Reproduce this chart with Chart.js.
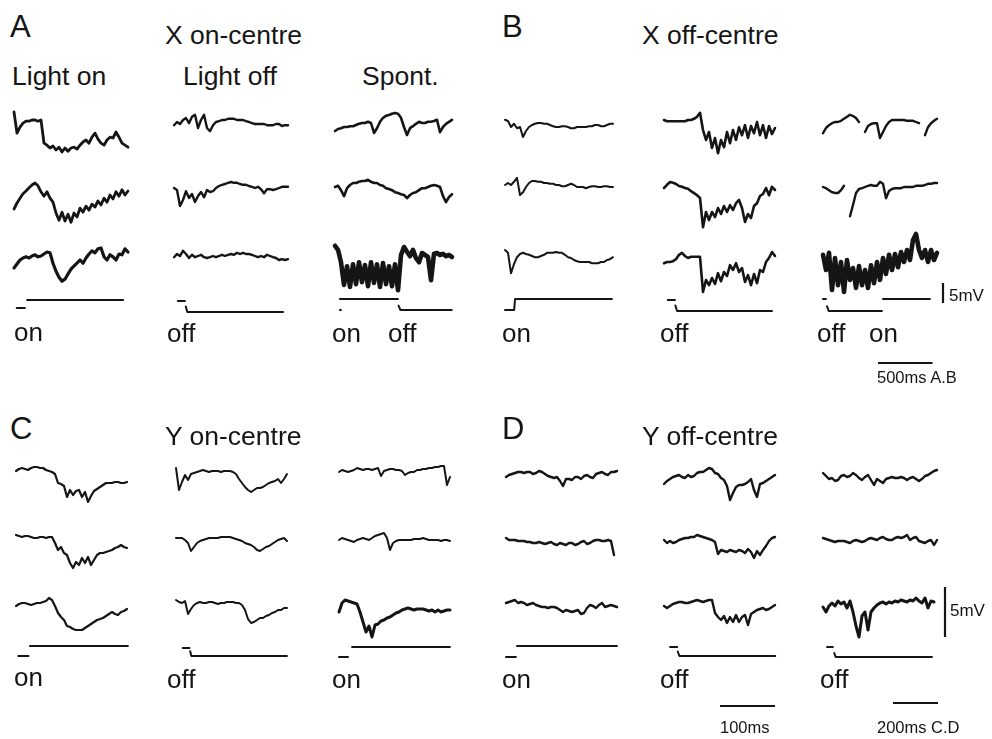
<!DOCTYPE html>
<html>
<head>
<meta charset="utf-8">
<script src="https://cdn.jsdelivr.net/npm/chart.js@4.4.1/dist/chart.umd.min.js"></script>
<style>
html, body { margin: 0; padding: 0; background: #fff; }
#fig { position: relative; width: 992px; height: 739px; overflow: hidden;
       font-family: "Liberation Sans", Arial, Helvetica, sans-serif; color: #151515; }
#fig canvas { position: absolute; }
.lbl { position: absolute; white-space: nowrap; line-height: 1; }
</style>
</head>
<body>
<div id="fig"></div>
<script>
/* membrane potential traces, mV relative to each trace's resting level,
   one sample every DT ms (see columns below) */

// A - X on-centre
const A1_1 = [2.0,-3.3,-1.8,-0.8,-0.3,-0.3,0,0,-0.3,0,-5.8,-6.3,-7.0,-6.5,-7.5,-6.8,-8.0,-7.0,-7.8,-7.0,-6.8,-7.3,-6.3,-5.5,-5.0,-5.8,-4.3,-3.3,-4.8,-5.8,-6.3,-5.0,-4.3,-4.5,-3.0,-4.3,-5.8,-6.3,-6.8];
const A1_2 = [-3.5,-2.0,-0.8,0.3,1.0,1.8,2.5,3.0,2.3,0.8,-0.3,0.8,-0.8,-1.8,-4.5,-6.3,-4.3,-6.5,-4.8,-6.8,-4.5,-5.5,-3.3,-4.3,-2.8,-3.8,-2.3,-3.0,-1.5,-2.5,-0.8,-1.8,0,-1.0,0.8,-0.3,1.3,0,1.0];
const A1_3 = [-2.5,-1.5,-0.5,0,0.3,0,0.5,0.8,0.3,0.5,1.0,1.5,1.3,-1.3,-3.3,-4.8,-5.8,-5.3,-4.0,-2.8,-2.0,-1.3,-0.5,-1.3,0,1.0,1.8,1.3,2.3,2.5,0.3,-0.5,0.8,0.3,-0.5,1.0,0.8,2.3,1.5];

const A2_1 = [-1.3,-0.5,-1.0,0,0.5,-0.8,0.8,1.3,-2.0,0,1.3,-2.0,-2.8,-1.3,-0.5,-0.3,0,0,0.3,0.3,0.3,0,0,0,-0.3,-0.5,-0.8,-1.0,-1.0,-1.0,-1.0,-1.3,-1.3,-1.3,-1.0,-1.0,-1.5,-1.3,-1.3];
const A2_2 = [0,-0.5,-4.5,-3.0,-0.8,-2.5,-1.5,-3.5,-2.0,-1.0,-2.3,-0.5,-1.0,-0.8,0,0.5,0.8,1.0,1.3,1.5,1.3,1.3,1.0,0.8,0.8,0.5,0.3,0,0.3,-0.3,-1.3,-0.3,-0.3,-0.5,-0.3,0,0.3,0.3,0.3];
const A2_3 = [-0.3,0.5,0,1.3,0.5,-0.5,0.3,-0.3,0,0.3,-0.3,-0.5,-0.3,0,-0.3,0,0.3,0,0.3,0.5,0.3,0.8,0.5,0.8,0.5,0.5,0.3,0,-0.3,0,-0.3,0.3,0,-0.3,-0.5,-1.0,-0.8,-1.0,-0.8];

const A3_1 = [-1.5,-1.0,-0.8,-0.5,-0.5,-0.3,-0.3,0,0.3,0.5,0.5,0.8,0.5,-2.0,-0.8,0.8,1.8,2.3,2.5,2.8,3.0,2.8,1.8,-0.5,-2.5,-0.8,-0.3,0.3,0.8,0.5,0.5,0.8,0.8,1.0,1.3,-1.8,-0.5,0.3,0.8,1.3];
const A3_2 = [0,0.3,-0.8,-2.3,-0.3,0.5,1.0,1.0,1.3,1.5,1.5,1.8,1.3,1.0,1.0,0.5,0.3,-0.3,-0.5,-0.8,-1.3,-1.5,-1.8,-2.0,-2.8,-2.0,-1.5,-1.3,-0.8,-0.3,-0.3,0,0.3,0.5,0.3,0,-2.3,-3.8,-2.5,-1.8];
const A3_3 = [2.3,1.3,-1.8,-7.5,-2.8,-8.0,-2.3,-7.3,-1.8,-6.8,-2.5,-7.8,-1.8,-7.0,-2.3,-8.0,-2.0,-7.3,-2.8,-7.8,-2.3,-8.8,0,2.0,0.8,-0.3,1.3,-0.8,-1.8,0.5,0,-0.5,-6.3,0.3,0.5,0,0.3,-0.3,0,-0.5];

// B - X off-centre
const B1_1 = [1.3,1.0,-0.5,0.3,-0.8,-0.5,-3.0,-1.5,-0.5,0,0.3,0.5,0.5,0.3,0.3,0,-0.3,-0.5,-0.5,-0.3,-0.3,-0.5,-0.8,-0.8,-0.5,-0.5,-0.5,-0.5,-0.3,-0.3,0,0,-0.3,-0.3,0,0.3,0.3];
const B1_2 = [0,0.5,0,0.8,1.8,-2.5,-1.8,-0.5,0.5,1.0,1.0,0.8,0.8,0.5,0.5,0.3,0.3,0,0,-0.3,-0.3,0,0.3,0,-0.5,-0.5,-0.5,-0.8,-0.5,-0.3,-0.3,-0.5,-0.5,-0.3,-0.3,-0.5,-0.5];
const B1_3 = [1.5,0.8,-4.3,-2.0,-0.3,0.5,0.8,0.5,0.3,0,-0.3,-0.3,0,0.3,0.8,0.8,0.8,1.0,0.8,0.8,0.3,-0.3,-0.5,-1.0,-1.3,-1.5,-1.5,-1.5,-1.5,-1.8,-1.8,-1.8,-1.5,-1.5,-1.0,-0.8,-0.3];

const B2_1 = [0,-0.3,-0.3,-0.3,-0.3,-0.3,-0.3,-0.3,0,0,0.3,0.8,1.8,-2.5,-5.0,-3.0,-7.0,-4.5,-8.3,-5.0,-6.8,-3.0,-5.8,-2.5,-5.0,-1.8,-3.8,-1.3,-4.5,-1.5,-3.3,-0.5,-3.8,-1.3,-4.5,-1.5,-3.5,-2.0];
const B2_2 = [0.5,1.3,2.0,1.8,1.5,1.0,0.8,0.5,0.3,-0.3,-0.8,-1.3,-2.0,-9.3,-5.5,-7.5,-5.5,-6.8,-4.5,-6.0,-4.0,-5.5,-3.8,-5.0,-3.3,-2.5,-4.5,-8.0,-6.0,-7.0,-4.0,-3.3,-1.5,-1.0,0.5,-1.3,0.8,0];
const B2_3 = [-1.3,-1.0,-1.0,-0.8,-0.3,0.8,1.3,0.5,0,0.3,0.3,0.3,0.3,-8.5,-5.5,-6.8,-5.0,-6.5,-3.8,-5.8,-3.5,-4.5,-1.8,-3.0,-1.3,-3.5,-2.5,-6.0,-4.3,-6.8,-4.0,-6.3,-3.0,-3.5,-1.0,0,1.5,0.5];

const B3_1 = [-2.8,-1.5,-0.8,-0.3,0,0,0.3,0.8,1.3,1.8,1.5,1.0,0,null,-2.5,-1.0,-0.5,-0.3,-0.3,-4.0,-2.5,-1.0,0,0.5,0.5,0.5,0.5,0.5,0.3,0.3,0.3,0,-0.3,null,-3.3,-1.3,-0.3,0.3,0.8];
const B3_2 = [0,-0.3,-0.8,-1.3,-1.5,-1.5,-0.8,0.3,null,-7.3,-4.5,-1.5,-0.5,-0.3,0,0.3,0.5,0.3,0.3,1.3,0.8,-2.8,-1.0,-0.5,-0.3,-0.3,-0.3,0,0,0,0,0.3,0.3,0.3,0.5,0.8,0.8,1.0,1.0];
const B3_3 = [0.8,-3.0,1.3,-8.0,0,-6.8,-1.0,-8.5,-0.5,-5.5,-2.5,-7.5,-2.0,-6.8,-3.0,-7.5,-1.8,-6.3,-1.0,-5.5,0,-4.0,0.8,-3.0,1.0,-2.3,1.5,-1.0,2.0,-0.5,4.5,6.0,2.0,0,2.0,-1.0,2.0,-0.5,1.3];

// C - Y on-centre
const C1_1 = [-0.1,0.1,0.2,0.1,0,0.2,0.3,0.3,0.2,0.2,0,-0.1,-0.2,-0.4,-1.3,-1.4,-1.6,-2.7,-2.0,-2.5,-2.1,-2.0,-2.7,-2.2,-3.2,-2.6,-2.1,-1.9,-1.7,-1.5,-1.3,-1.3,-1.3,-1.2,-1.2,-1.3,-1.3,-1.2];
const C1_2 = [0.2,0.1,0,0.1,0.1,0,-0.1,-0.1,0,0,-0.1,0,0,-0.6,-1.3,-1.0,-1.6,-1.8,-2.6,-3.1,-2.5,-2.8,-2.1,-2.6,-2.0,-2.8,-2.3,-1.8,-1.6,-1.6,-1.5,-1.4,-1.3,-1.1,-1.0,-0.8,-1.0,-1.1];
const C1_3 = [-0.2,0,0.1,0.1,0,-0.1,0,0.1,0.1,0.2,0.3,0.6,0.4,-0.2,-0.9,-1.3,-1.6,-2.2,-2.3,-2.5,-2.6,-2.6,-2.6,-2.4,-2.2,-2.0,-1.8,-1.6,-1.5,-1.4,-1.2,-1.0,-0.8,-1.0,-1.1,-0.8,-0.7,-0.5];

const C2_1 = [0.4,-1.8,-1.0,-0.3,-0.8,-0.2,-0.1,0,0.1,0.2,0.1,0,0.1,0.1,0.1,0,0.1,0.1,0.1,0,-0.2,-0.7,-1.1,-1.5,-1.8,-2.0,-1.8,-1.6,-1.6,-1.5,-1.3,-1.1,-1.0,-0.9,-0.7,-1.1,-0.7,-0.2];
const C2_2 = [0,0,0,-0.2,-0.5,-1.3,-0.9,-0.5,-0.3,-0.2,-0.1,0,0,0,0,0.1,0.1,0.1,0.1,0,-0.1,-0.2,-0.3,-0.5,-0.6,-0.7,-0.9,-1.2,-1.3,-1.1,-0.9,-0.8,-0.6,-0.4,-0.2,-0.1,0,-0.3];
const C2_3 = [0.3,0.1,0,0.2,-1.1,-0.6,-0.2,0,0.1,0,0,0.1,0.1,0,-0.1,0,0,0.1,0.1,0.1,0,0,-0.2,-0.7,-1.6,-2.0,-1.9,-1.7,-1.5,-1.5,-1.3,-1.2,-1.0,-0.9,-0.7,-0.7,-0.5,-0.5];

const C3_1 = [-0.2,0,-0.1,-0.2,-0.1,0,0.2,0.1,0,0.1,0.1,0,0.1,0.2,-0.6,-0.1,0,0.1,0.1,0,0,-0.1,-0.5,-0.3,-0.2,-0.2,0,0,0.1,0.1,0.2,0.2,0.3,0.3,0.4,0.4,-1.5,-0.7];
const C3_2 = [0,0.2,0.1,0,-0.1,-0.2,0,0.1,0.2,0.1,0,0.2,0.4,0.5,0.6,0.7,0.2,-1.0,-0.3,-0.1,0,0,0,0,0,0.1,0.1,0.1,0.2,0.1,0,0,0,0,-0.1,0,0,-0.1];
const C3_3 = [-0.7,0.2,0.5,0.4,0.3,0.2,0.1,-0.7,-1.7,-2.7,-2.1,-3.2,-2.0,-1.9,-1.6,-1.5,-1.3,-1.2,-1.0,-0.8,-0.7,-0.5,-0.4,-0.3,-0.4,-0.5,-0.4,-0.4,-0.4,-0.5,-0.6,-0.5,-0.7,-0.5,-0.7,-0.6,-0.5,-0.5];

// D - Y off-centre
const D1_1 = [-0.2,0,0.1,0.2,0.3,0.3,0.2,0.3,0.3,0.1,0.2,0.4,0.3,0.1,-0.1,-0.2,-0.3,-0.2,-0.6,-1.1,-0.4,-0.4,-0.5,-0.2,-0.2,-0.4,-0.1,0,-0.2,-0.3,0.1,0.2,0.3,0.1,0,0.3,0.3,0.4];
const D1_2 = [0.2,0,0,0,-0.1,-0.1,-0.1,-0.2,-0.2,-0.3,-0.3,-0.2,-0.3,-0.4,-0.3,-0.2,-0.4,-0.5,-0.3,-0.4,-0.5,-0.3,-0.3,-0.5,-0.4,-0.2,-0.1,-0.4,-0.3,-0.1,0,0,-0.1,-0.1,0,-0.1,-1.5];
const D1_3 = [0.1,0.2,0.3,0.4,0.1,0.2,0.1,-0.1,0,0.1,-0.1,-0.2,-0.3,-0.3,-0.4,-0.3,-0.3,-0.4,-0.6,-0.8,-0.6,-0.7,-0.8,-0.7,-0.6,-1.0,-0.9,-0.4,-0.1,-0.2,-0.4,-0.1,0.1,-0.3,-0.2,-0.1,-0.2,-0.3];

const D2_1 = [-0.6,-0.3,-0.1,0.1,0.2,0.3,0.1,0,0.3,0.1,0.2,0.5,0.6,0.6,0.8,1.0,0.9,0.5,0.4,0,-0.2,-0.8,-2.2,-1.5,-0.9,-0.7,-0.7,-0.6,-0.4,-0.1,-1.2,-1.9,-0.6,-0.5,-0.3,-0.1,0.1,0.3];
const D2_2 = [0,-0.3,-0.1,-0.3,-0.2,0,0.1,0.2,0.2,0.3,0.3,0.5,0.4,0.3,0.2,0.1,0,-0.2,-1.4,-1.0,-1.1,-1.2,-1.0,-1.1,-1.2,-1.0,-1.1,-1.3,-0.9,-1.2,-1.8,-1.1,-1.5,-1.0,-0.6,-0.1,0.2,0.3];
const D2_3 = [-0.3,-0.5,-0.3,-0.1,0,0.1,0.1,0,0,0.1,0.2,0.3,0.2,0.1,0.2,0.3,0.3,-1.0,-1.4,-1.7,-1.3,-2.0,-1.4,-1.9,-1.2,-1.9,-1.4,-1.2,-2.2,-1.1,-0.9,-0.7,-0.6,-0.5,-0.7,-0.6,-0.4,-0.2];

const D3_1 = [0.4,0.1,-0.2,-0.1,-0.4,-0.3,0.1,0.2,0,0.1,0.4,0.2,-0.1,-0.3,0,0.2,-0.3,-0.8,-0.2,-0.4,-0.6,-0.2,-0.1,0,-0.1,-0.1,0,-0.1,-0.3,-0.1,0,-0.2,-0.4,-0.2,0.1,0.2,0.4,0.6,0.7];
const D3_2 = [0.2,0.1,0,-0.1,-0.2,-0.1,-0.1,-0.1,-0.2,-0.3,-0.1,0,-0.1,-0.2,-0.1,0.1,0.2,0.1,0,0.2,0.3,0.1,0,0,0.2,0.3,0.2,0.3,0.5,0,0.2,0.3,-0.1,-0.2,-0.3,-0.1,0,-0.5,0];
const D3_3 = [-0.3,-0.8,-0.2,0.1,-0.2,0.3,0,0.2,-0.4,0.3,-0.8,-2.2,-3.3,-1.2,-0.8,-2.6,-0.8,-0.4,-0.1,0.1,0.2,0,0.2,0.1,0.3,0.2,0.4,0.3,0.2,0.4,0.3,0.6,0.3,0.1,0.6,-0.4,0.3,0.2];

// light stimulus: [time ms, level 0 = dark / 1 = light], null = pen up
const stimA1 = [[25,0],[100,0],null,[120,1],[1000,1]];
const stimA2 = [[35,1],[100,1],null,[108,0.5],[122,0],[1000,0]];
const stimA3 = [[45,0],[54,0],null,[45,1],[577,1],null,[582,0.4],[600,0],[1070,0]];
const stimB1 = [[0,0],[84,0],[92,1],[980,1]];
const stimB2 = [[35,1],[100,1],null,[104,0.5],[120,0],[990,0]];
const stimB3 = [[0,1],[27,1],null,[37,0.4],[52,0],[540,0],null,[550,1],[980,1]];
const stimC1 = [[10,0],[55,0],null,[62,1],[497,1]];
const stimC2 = [[30,1],[60,1],null,[63,0.6],[68,0],[493,0]];
const stimC3 = [[0,0],[40,0],null,[58,1],[493,1]];
const stimD1 = [[0,0],[44,0],null,[49,1],[493,1]];
const stimD2 = [[11,1],[24,1],null,[25,0.5],[28,0],[202,0]];
const stimD3 = [[18,1],[44,1],null,[50,0.4],[56,0],[484,0]];

// scale bars
const BAR_AB_MV = 5, BAR_AB_MS = 500;
const BAR_CD_MV = 5, BAR_CD_MS = 200, BAR_D2_MS = 100;

const DT_AB = 27.5, DT_CD = 13.33, DT_D2 = 5.45;   // ms per sample
const INK = '#151515';

// layout: box = canvas [left, top, width, height]; x0 = px of first sample; rowY = px of each trace's 0 mV
const columns = [
    { box: [0, 95, 160, 240],   x0: 14,  dt: DT_AB, pxPerMV: 4,  rowY: [120, 195, 258], traces: [A1_1, A1_2, A1_3], widths: [2.8, 2.8, 3.2], stim: stimA1, stimY: [308, 300] },
    { box: [160, 95, 160, 240], x0: 174, dt: DT_AB, pxPerMV: 4,  rowY: [120, 188, 256], traces: [A2_1, A2_2, A2_3], widths: [2.4, 2.4, 2.4], stim: stimA2, stimY: [312, 301] },
    { box: [320, 95, 170, 240], x0: 335, dt: DT_AB, pxPerMV: 4,  rowY: [125, 187, 255], traces: [A3_1, A3_2, A3_3], widths: [2.6, 2.6, 4.6], stim: stimA3, stimY: [310, 299] },
    { box: [490, 95, 160, 240], x0: 505, dt: DT_AB, pxPerMV: 4,  rowY: [125, 185, 256], traces: [B1_1, B1_2, B1_3], widths: [2, 2, 2], stim: stimB1, stimY: [310, 299] },
    { box: [650, 95, 155, 240], x0: 664, dt: DT_AB, pxPerMV: 4,  rowY: [120, 190, 258], traces: [B2_1, B2_2, B2_3], widths: [2.6, 2.6, 2.6], stim: stimB2, stimY: [311, 300] },
    { box: [805, 95, 187, 290], x0: 823, dt: DT_AB, pxPerMV: 4,  rowY: [122, 187, 258], traces: [B3_1, B3_2, B3_3], widths: [2.4, 2.4, 4.6], stim: stimB3, stimY: [311, 299],
      bars: [{ dir: 'v', px: 943, py: 303, len: BAR_AB_MV }, { dir: 'h', px: 878, py: 363, len: BAR_AB_MS }] },
    { box: [0, 450, 160, 230],   x0: 16,  dt: DT_CD, pxPerMV: 10, rowY: [470, 537, 604], traces: [C1_1, C1_2, C1_3], widths: [2.2, 2.2, 2.2], stim: stimC1, stimY: [656, 646] },
    { box: [160, 450, 160, 230], x0: 176, dt: DT_CD, pxPerMV: 10, rowY: [472, 538, 603], traces: [C2_1, C2_2, C2_3], widths: [2, 2, 2], stim: stimC2, stimY: [656, 648] },
    { box: [320, 450, 170, 230], x0: 339, dt: DT_CD, pxPerMV: 10, rowY: [470, 540, 605], traces: [C3_1, C3_2, C3_3], widths: [2, 2, 3], stim: stimC3, stimY: [657, 647] },
    { box: [490, 450, 160, 230], x0: 506, dt: DT_CD, pxPerMV: 10, rowY: [475, 540, 604], traces: [D1_1, D1_2, D1_3], widths: [2.4, 2.4, 2.4], stim: stimD1, stimY: [657, 646] },
    { box: [650, 450, 155, 270], x0: 664, dt: DT_D2, pxPerMV: 10, rowY: [478, 540, 603], traces: [D2_1, D2_2, D2_3], widths: [2.4, 2.4, 2.4], stim: stimD2, stimY: [656, 647],
      bars: [{ dir: 'h', px: 720, py: 706, len: BAR_D2_MS }] },
    { box: [805, 450, 187, 270], x0: 823, dt: DT_CD, pxPerMV: 10, rowY: [477, 540, 604], traces: [D3_1, D3_2, D3_3], widths: [2.4, 2.4, 3], stim: stimD3, stimY: [657, 647],
      bars: [{ dir: 'v', px: 945, py: 637, len: BAR_CD_MV }, { dir: 'h', px: 893, py: 703, len: BAR_CD_MS }] }
];

// text: [text, left, baseline, font size]
const labels = [
    ['A', 10, 37, 31], ['X on-centre', 165, 44, 26.5], ['B', 502, 37, 31], ['X off-centre', 642, 44, 26.5],
    ['Light on', 12, 85, 26.5], ['Light off', 183, 85, 26.5], ['Spont.', 362, 85, 26.5],
    ['on', 14, 341, 26], ['off', 167, 342, 26], ['on', 332, 342, 26], ['off', 388, 342, 26],
    ['on', 502, 342, 26], ['off', 660, 342, 26], ['off', 817, 342, 26], ['on', 869, 342, 26],
    ['5mV', 949, 301, 17], ['500ms A.B', 877, 383, 16.5],
    ['C', 10, 439, 31], ['Y on-centre', 165, 445, 26.5], ['D', 502, 439, 31], ['Y off-centre', 642, 445, 26.5],
    ['on', 14, 686, 26], ['off', 167, 688, 26], ['on', 332, 688, 26],
    ['on', 502, 688, 26], ['off', 660, 688, 26], ['off', 820, 688, 26],
    ['5mV', 950, 616, 17], ['100ms', 720, 733, 16.5], ['200ms C.D', 877, 733, 16.5]
];

const fig = document.getElementById('fig');

function splitRuns(pts) {
    const runs = [[]];
    pts.forEach(p => {
        if (p === null) runs.push([]);
        else runs[runs.length - 1].push({ x: p[0], y: p[1] });
    });
    return runs.filter(r => r.length);
}

function buildColumn(col) {
    const [left, top, w, h] = col.box;
    const cv = document.createElement('canvas');
    cv.width = w; cv.height = h;
    cv.style.left = left + 'px'; cv.style.top = top + 'px';
    cv.style.width = w + 'px'; cv.style.height = h + 'px';
    fig.appendChild(cv);

    const msPx = col.dt / 3;
    const toT = px => (px - col.x0) * msPx;
    const toV = py => -(py - top) / col.pxPerMV;

    const sets = col.traces.map((vals, r) => ({
        data: vals.map((v, i) => ({ x: i * col.dt, y: v === null ? null : v + toV(col.rowY[r]) })),
        borderColor: INK, borderWidth: col.widths[r], yAxisID: 'y'
    }));

    splitRuns(col.stim).forEach(run => sets.push({
        data: run, borderColor: INK, borderWidth: 2, yAxisID: 'ys'
    }));

    (col.bars || []).forEach(b => {
        const t = toT(b.px), v = toV(b.py);
        const data = b.dir === 'v' ? [{ x: t, y: v }, { x: t, y: v + b.len }] : [{ x: t, y: v }, { x: t + b.len, y: v }];
        sets.push({ data, borderColor: INK, borderWidth: 2.2, yAxisID: 'y', borderCapStyle: 'butt' });
    });

    const [lowPx, highPx] = col.stimY;
    const sRange = h / (lowPx - highPx);
    const sMax = (lowPx - top) / (lowPx - highPx);

    new Chart(cv, {
        type: 'line',
        data: { datasets: sets },
        options: {
            responsive: false,
            animation: false,
            events: [],
            layout: { padding: 0 },
            plugins: { legend: { display: false }, tooltip: { enabled: false } },
            elements: {
                point: { radius: 0 },
                line: { tension: 0, fill: false, borderJoinStyle: 'round', borderCapStyle: 'round' }
            },
            scales: {
                x: { type: 'linear', display: false, min: toT(left), max: toT(left + w) },
                y: { type: 'linear', display: false, min: toV(top + h), max: 0 },
                ys: { type: 'linear', display: false, min: sMax - sRange, max: sMax }
            }
        }
    });
}

columns.forEach(buildColumn);

labels.forEach(([t, x, base, size]) => {
    const d = document.createElement('div');
    d.className = 'lbl';
    d.textContent = t;
    d.style.left = x + 'px';
    d.style.top = (base - 0.847 * size) + 'px';
    d.style.fontSize = size + 'px';
    fig.appendChild(d);
});
</script>
</body>
</html>
